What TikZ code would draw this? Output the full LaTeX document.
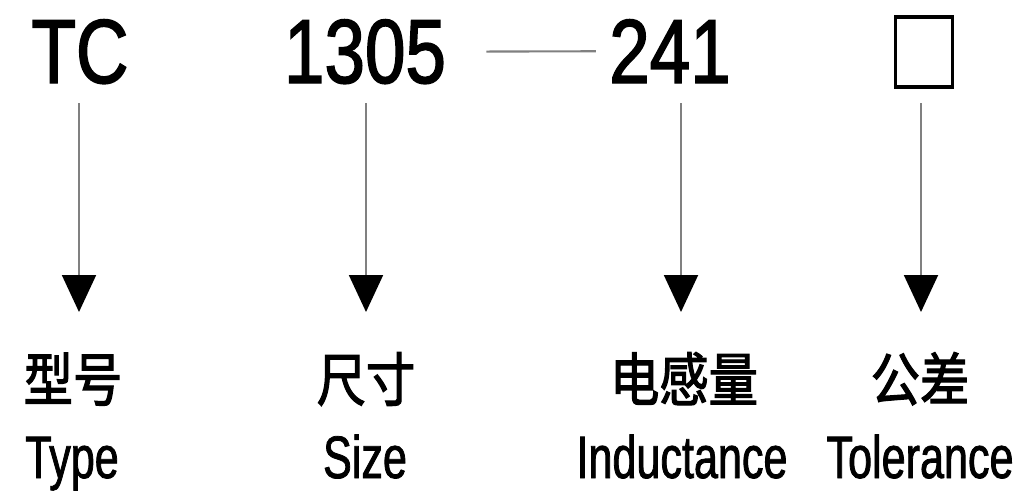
\documentclass[tikz,border=0pt]{standalone}
\usepackage{fontspec}
\usepackage{tikz}
\usetikzlibrary{arrows.meta}
\usetikzlibrary{calc}
\newfontfamily\breitfont[FakeStretch=0.80,FakeBold=1.6]{Liberation Sans}
\newfontfamily\schmalfont[FakeStretch=0.72,FakeBold=1.3]{Liberation Sans}
\newfontfamily\cjk[FakeStretch=0.85,FakeBold=2]{Noto Sans CJK SC}
\definecolor{liniengrau}{rgb}{0.5,0.5,0.5}

\begin{document}
\begin{tikzpicture}[x=0.02cm, y=-0.02cm] % Pixelraster, y nach unten

    \useasboundingbox (0,0) rectangle (1024,497);

    % Obere Zeile: Bezeichnung
    \node[inner sep=0, anchor=base] (tc) at (80,83) {\breitfont\fontsize{51.8}{60}\selectfont TC};
    \node[inner sep=0, anchor=base] (groesse) at (365,83) {\breitfont\fontsize{51.8}{60}\selectfont 1305};
    \node[inner sep=0, anchor=base] (wert) at (670,83) {\breitfont\fontsize{51.8}{60}\selectfont 241};
    \node[draw, line width=2.2pt, minimum width=1.14cm, minimum height=1.4cm, inner sep=0] (feld) at (924,52) {};

    % Bindestrich
    \draw[liniengrau, line width=1.2pt, shorten <=0.8cm, shorten >=0.26cm] (groesse.east) -- (wert.west);

    % Pfeile und Beschriftungen
    \foreach \n/\xa/\xc/\xe/\cn/\en in {
        1/79/73/72/型号/Type, 2/366/366/365/尺寸/Size,
        3/681/684/682/电感量/Inductance, 4/921/920/920/公差/Tolerance
    } {
        \coordinate (o\n) at (\xa,103);
        \coordinate (u\n) at (\xa,312);
        \draw[liniengrau, line width=1.1pt, -{Triangle[length=0.74cm, width=0.68cm, color=black]}] (o\n) -- (u\n);
        \node[inner sep=0, anchor=base] (zh\n) at (\xc,401) {\cjk\fontsize{33}{40}\selectfont \cn};
        \node[inner sep=0, anchor=base] (en\n) at (\xe,478) {\schmalfont\fontsize{34.1}{40}\selectfont \en};
    }

\end{tikzpicture}
\end{document}
